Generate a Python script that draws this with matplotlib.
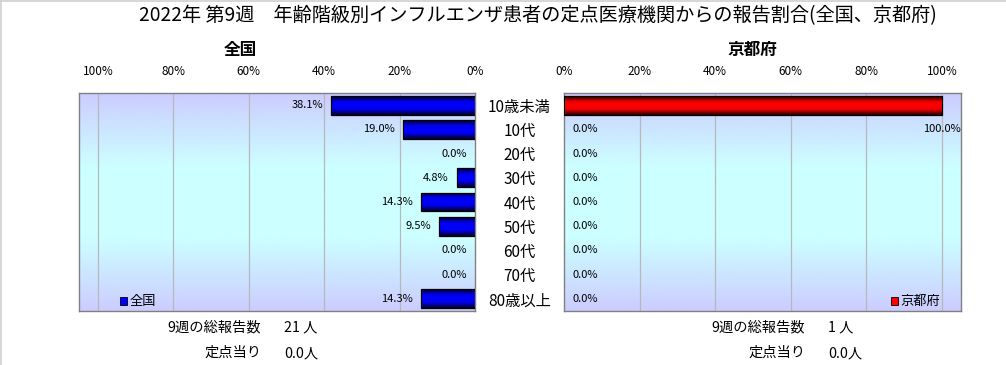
import numpy as np
import matplotlib
matplotlib.use("Agg")
import matplotlib.pyplot as plt
from matplotlib.colors import LinearSegmentedColormap
from matplotlib.patches import Patch
from matplotlib.lines import Line2D

plt.rcParams['font.family'] = ['Noto Sans CJK JP', 'DejaVu Sans']

# ---------------- data ----------------
title = "2022年 第9週　年齢階級別インフルエンザ患者の定点医療機関からの報告割合(全国、京都府)"
categories = ["10歳未満", "10代", "20代", "30代", "40代", "50代", "60代", "70代", "80歳以上"]
zenkoku = [38.1, 19.0, 0.0, 4.8, 14.3, 9.5, 0.0, 0.0, 14.3]
kyoto = [100.0, 0.0, 0.0, 0.0, 0.0, 0.0, 0.0, 0.0, 0.0]
tick_values = [0, 20, 40, 60, 80, 100]
tick_labels = ["0%", "20%", "40%", "60%", "80%", "100%"]
left_title = "全国"
right_title = "京都府"
left_total = ("9週の総報告数", "21 人")
left_per = ("定点当り", "0.0人")
right_total = ("9週の総報告数", "1 人")
right_per = ("定点当り", "0.0人")

W, H = 1006, 365
fig = plt.figure(figsize=(W / 100, H / 100), dpi=100)
fig.patch.set_facecolor("white")

# thin light-grey border on top and left only
fig.add_artist(Line2D([0, 1], [1 - 0.5 / H, 1 - 0.5 / H], transform=fig.transFigure,
                      color="#d0d0d0", lw=1.2))
fig.add_artist(Line2D([0.5 / W, 0.5 / W], [0, 1], transform=fig.transFigure,
                      color="#d0d0d0", lw=1.2))

def px_axes(x0, y0, x1, y1):
    return fig.add_axes([x0 / W, (H - y1) / H, (x1 - x0) / W, (y1 - y0) / H])

axL = px_axes(79, 93, 475, 311)
axR = px_axes(564, 93, 961, 311)

bg_cmap = LinearSegmentedColormap.from_list("bg", ["#CCCCFF", "#CCFFFF", "#CCFFFF", "#CCCCFF"])
blue_cmap = LinearSegmentedColormap.from_list("bl", [(0, "#000020"), (0.3, "#0000EE"), (0.5, "#0000FF"), (0.7, "#0000EE"), (1, "#000020")])
red_cmap = LinearSegmentedColormap.from_list("rd", [(0, "#200000"), (0.3, "#EE0000"), (0.5, "#FF0000"), (0.7, "#EE0000"), (1, "#200000")])

n = len(categories)
ypos = np.arange(n)
XMAX = 105
grad = np.linspace(0, 1, 256).reshape(-1, 1)

def setup(ax, inverted):
    ax.set_ylim(n - 0.5, -0.5)
    if inverted:
        ax.set_xlim(XMAX, 0)
    else:
        ax.set_xlim(0, XMAX)
    ax.imshow(grad, aspect="auto", cmap=bg_cmap, extent=[0, 1, 0, 1],
              transform=ax.transAxes, zorder=0)
    ax.xaxis.set_ticks_position("top")
    ax.set_xticks(tick_values)
    ax.set_xticklabels(tick_labels, fontsize=8.5)
    ax.tick_params(axis="x", length=0, pad=11)
    for v in tick_values[1:]:
        ax.axvline(v, color="#B8B8B8", lw=0.9, zorder=1)
    for s in ax.spines.values():
        s.set_color("#808080")
        s.set_linewidth(1.0)

def draw_bars(ax, vals, cmap):
    h = 0.78
    bars = ax.barh(ypos, vals, height=h, color="none", edgecolor="black", lw=0.9, zorder=3)
    for b, v in zip(bars, vals):
        if v <= 0:
            b.set_edgecolor("none")
            continue
        x0, y0 = b.get_x(), b.get_y()
        w, hh = b.get_width(), b.get_height()
        im = ax.imshow(grad, aspect="auto", cmap=cmap,
                       extent=[x0, x0 + w, y0 + hh, y0], zorder=2, interpolation="bilinear")
        im.set_clip_path(b)
    return bars

setup(axL, True)
setup(axR, False)
draw_bars(axL, zenkoku, blue_cmap)
draw_bars(axR, kyoto, red_cmap)

# category labels between the panels
axL.yaxis.set_ticks_position("right")
axL.set_yticks(ypos)
axL.set_yticklabels(categories, fontsize=11)
axL.tick_params(axis="y", length=0, pad=32)
for lab in axL.get_yticklabels():
    lab.set_horizontalalignment("center")
axR.set_yticks([])

# data labels
for i, v in enumerate(zenkoku):
    axL.annotate(f"{v:.1f}%", (v, i), xytext=(-6, 0), textcoords="offset points",
                 ha="right", va="center", fontsize=8, zorder=5)
for i, v in enumerate(kyoto):
    if v + 12 > XMAX:
        axR.annotate(f"{v:.1f}%", (v, i + 1), xytext=(0, 0), textcoords="offset points",
                     ha="center", va="center", fontsize=8, zorder=5)
    else:
        axR.annotate(f"{v:.1f}%", (v, i), xytext=(6, 0), textcoords="offset points",
                     ha="left", va="center", fontsize=8, zorder=5)

# legends
axL.legend(handles=[Patch(facecolor="#0000FF", edgecolor="black", lw=0.6, label=left_title)],
           loc="lower left", bbox_to_anchor=(0.08, -0.03), frameon=False, fontsize=9.5,
           handlelength=0.55, handleheight=0.55, handletextpad=0.15, borderpad=0.2)
axR.legend(handles=[Patch(facecolor="#FF0000", edgecolor="black", lw=0.6, label=right_title)],
           loc="lower left", bbox_to_anchor=(0.8, -0.03), frameon=False, fontsize=9.5,
           handlelength=0.55, handleheight=0.55, handletextpad=0.15, borderpad=0.2)

# titles
fig.text(538 / W, 1 - 16 / H, title, ha="center", va="center", fontsize=13.8)
fig.text(240 / W, 1 - 50 / H, left_title, ha="center", va="center", fontsize=12, fontweight="bold")
fig.text(752 / W, 1 - 50 / H, right_title, ha="center", va="center", fontsize=12, fontweight="bold")

# bottom summary texts
def summary(xr, xv, total, per):
    fig.text(xr / W, 1 - 327 / H, total[0], ha="right", va="center", fontsize=10.3)
    fig.text(xv / W, 1 - 327 / H, total[1], ha="left", va="center", fontsize=10.3)
    fig.text(xr / W, 1 - 353 / H, per[0], ha="right", va="center", fontsize=10.3)
    fig.text(xv / W, 1 - 353 / H, per[1], ha="left", va="center", fontsize=10.3)

summary(261, 284, left_total, left_per)
summary(805, 828, right_total, right_per)

fig.savefig("out.png", dpi=100, facecolor=fig.get_facecolor())
